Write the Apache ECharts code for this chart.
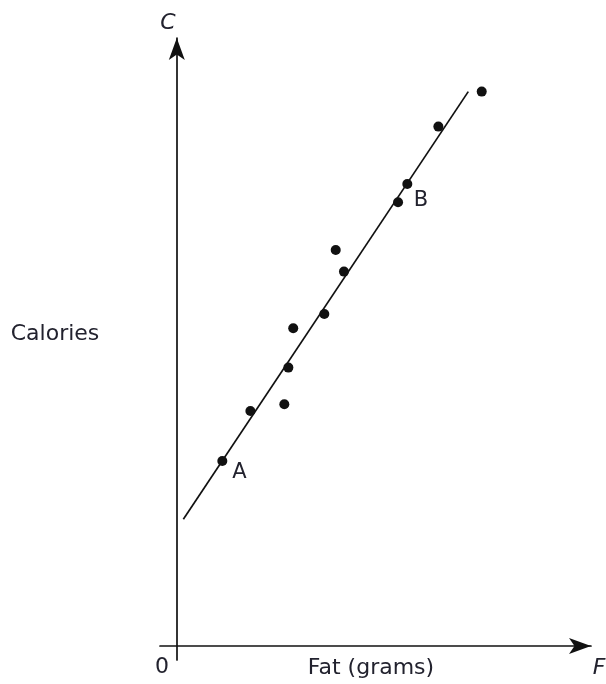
<!DOCTYPE html>
<html>
<head>
<meta charset="utf-8">
<script src="https://cdn.jsdelivr.net/npm/echarts@6/dist/echarts.min.js"></script>
<style>
html,body{margin:0;padding:0;background:#fff;}
#chart{width:606px;height:684px;}
</style>
</head>
<body>
<div id="chart"></div>
<script>
// Data (fat in grams, calories)
var fatValues = [2.71, 4.38, 6.40, 6.64, 6.93, 8.78, 9.46, 9.95, 13.17, 13.72, 15.57, 18.15];
var calorieValues = [92.5, 117.5, 120.9, 139.2, 158.9, 166, 198, 187.2, 221.9, 231, 259.7, 277.2];
var pointNames = ['A', '', '', '', '', '', '', '', 'B', '', '', ''];
// Line of best fit endpoints
var lineFat = [0.39, 17.35];
var lineCalories = [63.4, 277.2];

var TEXT_FONT = '"DejaVu Sans", "Open Sans", sans-serif';
var textColor = '#22222e';

var labelOffsets = { A: [17, 12], B: [23, -2] };

var scatterData = fatValues.map(function (f, i) {
  var item = { value: [f, calorieValues[i]] };
  var n = pointNames[i];
  if (n) {
    item.label = {
      show: true,
      formatter: n,
      position: 'inside',
      offset: labelOffsets[n],
      color: textColor,
      fontFamily: TEXT_FONT,
      fontSize: 21
    };
  }
  return item;
});

var lineData = lineFat.map(function (f, i) { return [f, lineCalories[i]]; });

var chart = echarts.init(document.getElementById('chart'), null, { renderer: 'canvas' });
var axisLineStyle = { color: '#111', width: 1.7 };
chart.setOption({
  backgroundColor: '#fff',
  animation: false,
  grid: { left: 160, width: 431, top: 38, height: 622, containLabel: false },
  xAxis: {
    type: 'value', min: -1, max: 24.655,
    axisLine: { show: true, onZero: true, lineStyle: axisLineStyle, symbol: ['none', 'arrow'], symbolSize: [12, 22] },
    axisTick: { show: false }, axisLabel: { show: false }, splitLine: { show: false }
  },
  yAxis: {
    type: 'value', min: -7, max: 304,
    axisLine: { show: true, onZero: true, lineStyle: axisLineStyle, symbol: ['none', 'arrow'], symbolSize: [12, 22] },
    axisTick: { show: false }, axisLabel: { show: false }, splitLine: { show: false }
  },
  graphic: [
    { type: 'text', x: 168, y: 23, style: { text: 'C', fontFamily: TEXT_FONT, fontStyle: 'italic', fontSize: 22, fill: textColor, align: 'center', verticalAlign: 'middle' } },
    { type: 'text', x: 599, y: 668, style: { text: 'F', fontFamily: TEXT_FONT, fontStyle: 'italic', fontSize: 22, fill: textColor, align: 'center', verticalAlign: 'middle' } },
    { type: 'text', x: 162, y: 667, style: { text: '0', fontFamily: TEXT_FONT, fontSize: 22, fill: textColor, align: 'center', verticalAlign: 'middle' } },
    { type: 'text', x: 371, y: 668, style: { text: 'Fat (grams)', fontFamily: TEXT_FONT, fontSize: 22, fill: textColor, align: 'center', verticalAlign: 'middle' } },
    { type: 'text', x: 55, y: 334, style: { text: 'Calories', fontFamily: TEXT_FONT, fontSize: 22, fill: textColor, align: 'center', verticalAlign: 'middle' } }
  ],
  series: [
    {
      type: 'line', data: lineData, symbol: 'none', silent: true,
      lineStyle: { color: '#111', width: 1.7 }, z: 2
    },
    {
      type: 'scatter', data: scatterData, symbolSize: 10,
      itemStyle: { color: '#111', opacity: 1 }, z: 3
    }
  ]
});
</script>
</body>
</html>
